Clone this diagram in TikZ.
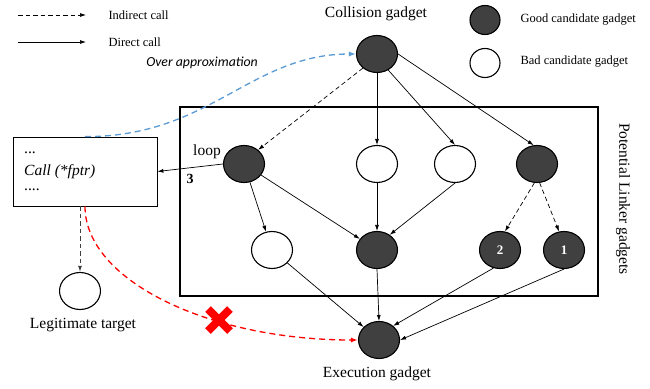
\documentclass[tikz,border=0pt]{standalone}
\usepackage{fontspec}
\setmainfont{Liberation Serif}
\newfontfamily\oafont{Carlito}
\usetikzlibrary{shapes.geometric,arrows.meta}
\definecolor{darkfill}{HTML}{404040}
\definecolor{oablue}{HTML}{5B9BD5}
\begin{document}
\begin{tikzpicture}[x=1pt,y=-1pt,
  good/.style={ellipse,draw=black,line width=1.1pt,fill=darkfill,minimum width=41pt,minimum height=37pt,inner sep=0pt,text=white,font=\fontsize{13}{13}\selectfont\bfseries},
  bad/.style={ellipse,draw=black,line width=1.1pt,fill=white,minimum width=41pt,minimum height=37pt,inner sep=0pt},
  lgood/.style={good,minimum width=30pt,minimum height=29pt},
  lbad/.style={bad,minimum width=30pt,minimum height=29pt},
  tip/.style={-{Latex[length=6pt,width=4pt]}},
  conn/.style={tip,line width=0.7pt},
  dconn/.style={tip,line width=0.7pt,dash pattern=on 4.5pt off 3pt},
  big/.style={font=\fontsize{15.5}{16}\selectfont},
  small/.style={font=\fontsize{12.5}{13}\selectfont},
]
\useasboundingbox (0,0) rectangle (650,388);
\fill[white] (0,0) rectangle (650,388);

% legend
\coordinate (li1) at (18,15); \coordinate (li2) at (86,15);
\coordinate (ld1) at (18,42); \coordinate (ld2) at (86,42);
\draw[dconn] (li1) -- (li2);
\draw[conn] (ld1) -- (ld2);
\node[small,anchor=west] (tind) at (105,15) {Indirect call};
\node[small,anchor=west] (tdir) at (105,42) {Direct call};
\node[lgood] (lg) at (485,20) {};
\node[lbad] (lb) at (485,63) {};
\node[small,anchor=west] (tgood) at (517,20) {Good candidate gadget};
\node[small,anchor=west] (tbad) at (517,62) {Bad candidate gadget};

% frame
\node[draw,line width=2.2pt,minimum width=418pt,minimum height=189pt,inner sep=0pt] (frame) at (389,201.5) {};
\node[big,rotate=-90] (tpot) at (623,199) {Potential Linker gadgets};

% nodes
\node[good] (col) at (377,54) {};
\node[big] (tcol) at (376,14) {Collision gadget};
\node[good] (loop) at (244,164) {};
\node[bad] (w1) at (377,164) {};
\node[bad] (w2) at (455,164) {};
\node[good] (d1) at (537,164) {};
\node[bad] (w3) at (272,250) {};
\node[good] (d2) at (377,250) {};
\node[good] (n2) at (500,250) {2};
\node[good] (n1) at (564,250) {1};
\node[good] (ex) at (379,340) {};
\node[big] (tex) at (377,374) {Execution gadget};
\node[big] (tloop) at (207,152) {loop};
\node[big,font=\fontsize{14}{14}\selectfont\bfseries] (t3) at (190,179) {3};

% left box
\node[draw,line width=0.8pt,minimum width=144pt,minimum height=69pt,inner sep=0pt] (box) at (85,171.5) {};
\node[big,anchor=west,inner sep=0pt] (dots1) at (24,153) {...};
\node[big,anchor=west,inner sep=0pt] (call) at (24,172) {\itshape Call (*fptr)};
\node[big,anchor=west,inner sep=0pt] (dots2) at (24,190) {....};
\node[bad] (leg) at (80,291) {};
\node[big] (tleg) at (83,325) {Legitimate target};

\node[font=\oafont\itshape\fontsize{13.8}{14}\selectfont] (toa) at (202,63) {Over approximation};

% connectors
\draw[dconn] (col.225) -- (loop.45);
\draw[conn] (col.south) -- (w1.north);
\draw[conn] (col.-55) -- (w2.north);
\draw[conn] (col.east) -- (d1.100);
\draw[conn] (loop.west) -- (box.east);
\draw[conn] (loop) -- (w3);
\draw[conn] (loop) -- (d2);
\draw[conn] (w1.south) -- (d2.north);
\draw[conn] (w2.south) -- (d2.50);
\draw[dconn] (d1.262) -- (n2.75);
\draw[dconn] (d1.278) -- (n1.105);
\draw[conn] (w3) -- (ex);
\draw[conn] (d2.south) -- (ex.north);
\draw[conn] (n2.250) -- (ex.45);
\draw[conn] (n1.south) -- (ex.east);
\draw[tip,line width=1pt,draw=black!75,dash pattern=on 4.5pt off 3pt] (box.south -| leg.north) -- (leg.north);

\draw[oablue,line width=1.3pt,dash pattern=on 6pt off 4pt,-{Latex[length=7pt,width=5pt]}]
  (box.north) .. controls (210,137) and (250,54) .. (col.west);
\draw[red,line width=1.3pt,dash pattern=on 6pt off 4pt,-{Latex[length=7pt,width=5pt]}]
  (box.south) .. controls (85,280) and (208,340) .. (ex.west);
\coordinate (xc) at (219,320);
\draw[red,line width=8pt] ([shift={(-11,-11)}]xc) -- ([shift={(11,11)}]xc);
\draw[red,line width=8pt] ([shift={(-11,11)}]xc) -- ([shift={(11,-11)}]xc);
\end{tikzpicture}
\end{document}
